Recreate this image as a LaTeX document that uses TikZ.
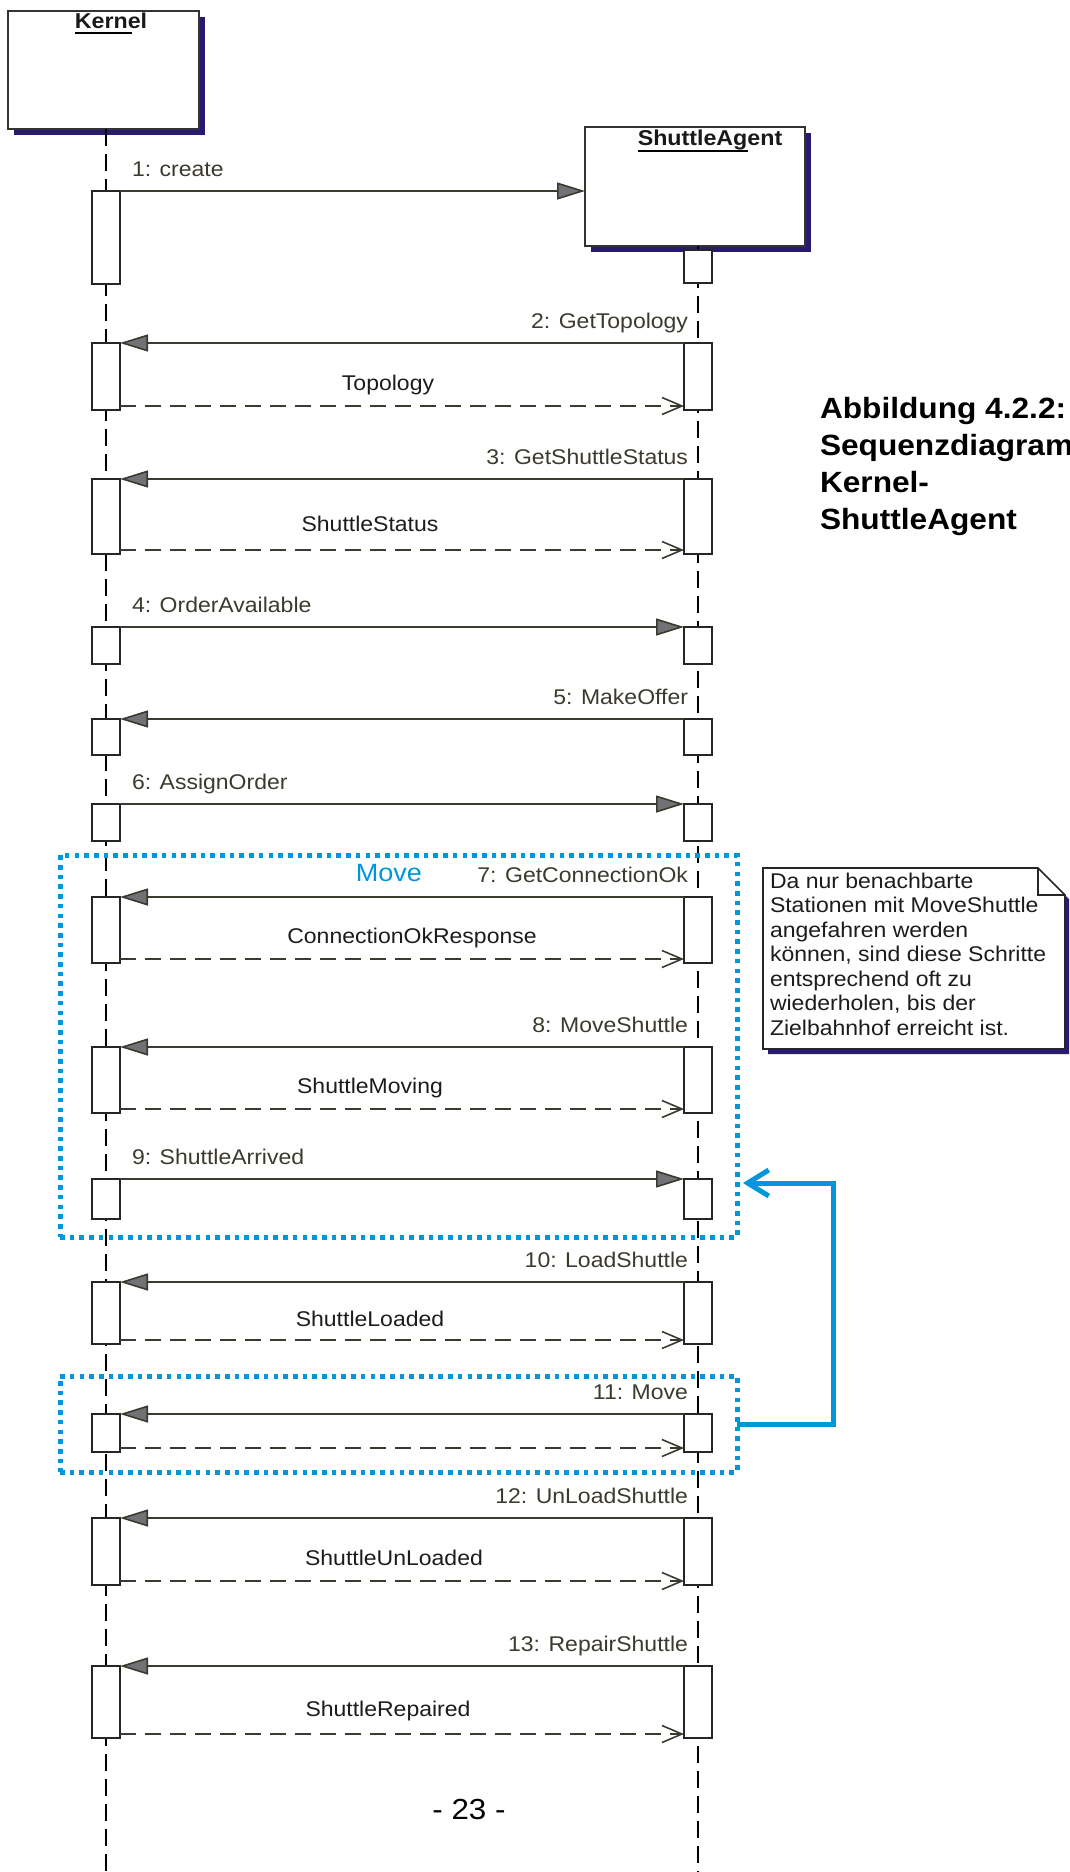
\documentclass[tikz,border=0pt]{standalone}
\usepackage{fontspec}
\setmainfont{Liberation Sans}[FakeStretch=1.08]
\usetikzlibrary{arrows.meta,shadows}

\definecolor{ink}{RGB}{60,58,46}
\definecolor{tipgray}{RGB}{112,114,118}
\definecolor{boxshadow}{RGB}{40,26,110}
\definecolor{loopblue}{RGB}{0,150,220}
\definecolor{textdark}{RGB}{28,28,28}

\newcommand\msgfont{\fontsize{21.3pt}{24.5pt}\selectfont}
\newcommand\headfont{\fontsize{21.5pt}{24pt}\selectfont\bfseries}
\newcommand\capfont{\fontsize{29.3pt}{37pt}\selectfont\bfseries}
\newcommand\movefont{\fontsize{25pt}{28pt}\selectfont}
\newcommand\pagefont{\fontsize{29pt}{32pt}\selectfont}

\begin{document}
\begin{tikzpicture}[x=1pt,y=-1pt,
  every node/.style={inner sep=0pt, outer sep=0pt},
  objbox/.style={draw=black!80, line width=1.6pt, fill=white, anchor=north west,
    drop shadow={shadow xshift=6pt, shadow yshift=-6pt, fill=boxshadow, opacity=1}},
  objname/.style={font=\headfont, text=black!90, anchor=base},
  lifeline/.style={draw=black, line width=2pt, dash pattern=on 17pt off 8pt},
  act/.style={draw=black!85, fill=white, line width=1.6pt, minimum width=28pt, anchor=north},
  call/.style={draw=ink, line width=1.6pt, -{Triangle[length=28pt,width=17pt,fill=tipgray]}},
  reply/.style={draw=ink, line width=1.6pt, dash pattern=on 16pt off 9pt,
    -{Straight Barb[length=20pt,width=17pt]}},
  msgtxt/.style={font=\msgfont, text=ink},
  reptxt/.style={font=\msgfont, text=textdark, anchor=base},
  loopframe/.style={draw=loopblue, line width=5pt, dash pattern=on 4.6pt off 5.1pt, anchor=north west},
  loopline/.style={draw=loopblue, line width=5pt, -{Straight Barb[length=21pt,width=26pt]}},
  notetxt/.style={font=\msgfont, text=textdark, align=left, anchor=north west},
]
\useasboundingbox (0,0) rectangle (1069,1872);
\clip (0,0) rectangle (1069,1872);

% objects
\node[objbox, minimum width=191pt, minimum height=118pt] (kernel) at (8,11) {};
\node[objname] (kname) at (111,28) {Kernel};
\draw[line width=1.8pt] ([yshift=-5pt]kname.base west) -- ([yshift=-5pt,xshift=-15pt]kname.base east);

\node[objbox, minimum width=220pt, minimum height=119pt] (agent) at (585,127) {};
\node[objname] (aname) at (710,145) {ShuttleAgent};
\draw[line width=1.8pt] ([yshift=-6pt]aname.base west) -- ([yshift=-6pt,xshift=-34pt]aname.base east);

% lifelines
\coordinate (kEnd) at (106,1872);
\coordinate (sEnd) at (698,1872);
\draw[lifeline] (kernel.south -| kEnd) -- (kEnd);
\draw[lifeline] (agent.south -| sEnd) -- (sEnd);

% loop frames
\node[loopframe, minimum width=677pt, minimum height=382pt] (loopA) at (60,855) {};
\node[font=\movefont, text=loopblue, anchor=base] (loopAname) at (389,881) {Move};
\node[loopframe, minimum width=677pt, minimum height=96pt] (loopB) at (60,1376) {};

% 1: create
\node[act, minimum height=93pt] (k1) at (106,191) {};
\node[act, minimum height=33pt] (s1) at (698,250) {};
\draw[call] (k1.north east) -- (agent.west |- k1.north);
\node[msgtxt, anchor=base west] (m1) at ([xshift=12pt,yshift=14.5pt]k1.north east) {1: create};

% 2: GetTopology
\node[act, minimum height=67pt] (k2) at (106,343) {};
\node[act, minimum height=67pt] (s2) at (698,343) {};
\draw[call] (s2.north west) -- (k2.north east);
\node[msgtxt, anchor=base east] (m2) at ([xshift=4pt,yshift=14.5pt]s2.north west) {2: GetTopology};
\draw[reply] ([yshift=4pt]k2.south east) -- ([yshift=4pt]s2.south west);
\node[reptxt] (r2) at (388,390) {Topology};

% 3: GetShuttleStatus
\node[act, minimum height=75pt] (k3) at (106,479) {};
\node[act, minimum height=75pt] (s3) at (698,479) {};
\draw[call] (s3.north west) -- (k3.north east);
\node[msgtxt, anchor=base east] (m3) at ([xshift=4pt,yshift=14.5pt]s3.north west) {3: GetShuttleStatus};
\draw[reply] ([yshift=4pt]k3.south east) -- ([yshift=4pt]s3.south west);
\node[reptxt] (r3) at (370,531) {ShuttleStatus};

% 4: OrderAvailable
\node[act, minimum height=37pt] (k4) at (106,627) {};
\node[act, minimum height=37pt] (s4) at (698,627) {};
\draw[call] (k4.north east) -- (s4.north west);
\node[msgtxt, anchor=base west] (m4) at ([xshift=12pt,yshift=14.5pt]k4.north east) {4: OrderAvailable};

% 5: MakeOffer
\node[act, minimum height=36pt] (k5) at (106,719) {};
\node[act, minimum height=36pt] (s5) at (698,719) {};
\draw[call] (s5.north west) -- (k5.north east);
\node[msgtxt, anchor=base east] (m5) at ([xshift=4pt,yshift=14.5pt]s5.north west) {5: MakeOffer};

% 6: AssignOrder
\node[act, minimum height=37pt] (k6) at (106,804) {};
\node[act, minimum height=37pt] (s6) at (698,804) {};
\draw[call] (k6.north east) -- (s6.north west);
\node[msgtxt, anchor=base west] (m6) at ([xshift=12pt,yshift=14.5pt]k6.north east) {6: AssignOrder};

% 7: GetConnectionOk
\node[act, minimum height=66pt] (k7) at (106,897) {};
\node[act, minimum height=66pt] (s7) at (698,897) {};
\draw[call] (s7.north west) -- (k7.north east);
\node[msgtxt, anchor=base east] (m7) at ([xshift=4pt,yshift=14.5pt]s7.north west) {7: GetConnectionOk};
\draw[reply] ([yshift=4pt]k7.south east) -- ([yshift=4pt]s7.south west);
\node[reptxt] (r7) at (412,943) {ConnectionOkResponse};

% 8: MoveShuttle
\node[act, minimum height=66pt] (k8) at (106,1047) {};
\node[act, minimum height=66pt] (s8) at (698,1047) {};
\draw[call] (s8.north west) -- (k8.north east);
\node[msgtxt, anchor=base east] (m8) at ([xshift=4pt,yshift=14.5pt]s8.north west) {8: MoveShuttle};
\draw[reply] ([yshift=4pt]k8.south east) -- ([yshift=4pt]s8.south west);
\node[reptxt] (r8) at (370,1093) {ShuttleMoving};

% 9: ShuttleArrived
\node[act, minimum height=40pt] (k9) at (106,1179) {};
\node[act, minimum height=40pt] (s9) at (698,1179) {};
\draw[call] (k9.north east) -- (s9.north west);
\node[msgtxt, anchor=base west] (m9) at ([xshift=12pt,yshift=14.5pt]k9.north east) {9: ShuttleArrived};

% 10: LoadShuttle
\node[act, minimum height=62pt] (k10) at (106,1282) {};
\node[act, minimum height=62pt] (s10) at (698,1282) {};
\draw[call] (s10.north west) -- (k10.north east);
\node[msgtxt, anchor=base east] (m10) at ([xshift=4pt,yshift=14.5pt]s10.north west) {10: LoadShuttle};
\draw[reply] ([yshift=4pt]k10.south east) -- ([yshift=4pt]s10.south west);
\node[reptxt] (r10) at (370,1326) {ShuttleLoaded};

% 11: Move
\node[act, minimum height=38pt] (k11) at (106,1414) {};
\node[act, minimum height=38pt] (s11) at (698,1414) {};
\draw[call] (s11.north west) -- (k11.north east);
\node[msgtxt, anchor=base east] (m11) at ([xshift=4pt,yshift=14.5pt]s11.north west) {11: Move};
\draw[reply] ([yshift=4pt]k11.south east) -- ([yshift=4pt]s11.south west);

% 12: UnLoadShuttle
\node[act, minimum height=67pt] (k12) at (106,1518) {};
\node[act, minimum height=67pt] (s12) at (698,1518) {};
\draw[call] (s12.north west) -- (k12.north east);
\node[msgtxt, anchor=base east] (m12) at ([xshift=4pt,yshift=14.5pt]s12.north west) {12: UnLoadShuttle};
\draw[reply] ([yshift=4pt]k12.south east) -- ([yshift=4pt]s12.south west);
\node[reptxt] (r12) at (394,1565) {ShuttleUnLoaded};

% 13: RepairShuttle
\node[act, minimum height=72pt] (k13) at (106,1666) {};
\node[act, minimum height=72pt] (s13) at (698,1666) {};
\draw[call] (s13.north west) -- (k13.north east);
\node[msgtxt, anchor=base east] (m13) at ([xshift=4pt,yshift=14.5pt]s13.north west) {13: RepairShuttle};
\draw[reply] ([yshift=4pt]k13.south east) -- ([yshift=4pt]s13.south west);
\node[reptxt] (r13) at (388,1716) {ShuttleRepaired};

% repetition of the Move block
\coordinate (loopTurn) at (833,1424);
\coordinate (loopTip) at (743,1183);
\draw[loopline] (loopB.east |- loopTurn) -- (loopTurn) |- (loopTip);

% note with folded corner
\fill[boxshadow] (768,873) -- (1043,873) -- (1070,900) -- (1070,1054) -- (768,1054) -- cycle;
\draw[line width=1.6pt, draw=black!85, fill=white] (763,868) -- (1038,868) -- (1065,895) -- (1065,1049) -- (763,1049) -- cycle;
\draw[line width=1.6pt, draw=black!85] (1038,868) -- (1038,895) -- (1065,895);
\node[notetxt] (note) at (770,873) {Da nur benachbarte\\Stationen mit MoveShuttle\\angefahren werden\\können, sind diese Schritte\\entsprechend oft zu\\wiederholen, bis der\\Zielbahnhof erreicht ist.};

% caption
\node[font=\capfont, text=black, align=left, anchor=north west] (caption) at (820,397) {Abbildung 4.2.2:\\Sequenzdiagramm\\Kernel-\\ShuttleAgent};

% page number
\node[font=\pagefont, text=black, anchor=base] (pageno) at (469,1819) {- 23 -};
\end{tikzpicture}
\end{document}
